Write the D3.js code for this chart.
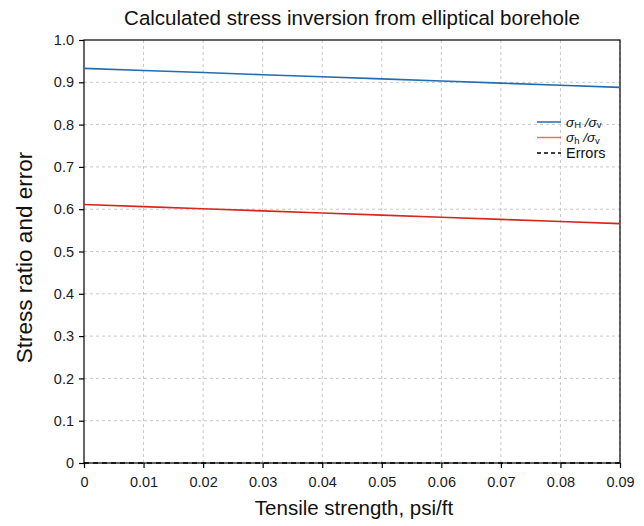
<!DOCTYPE html>
<html>
<head>
<meta charset="utf-8">
<script src="https://cdn.jsdelivr.net/npm/d3@7"></script>
<style>
  body { margin: 0; background: #fff; }
  text { font-family: "Liberation Sans", Arial, sans-serif; }
</style>
</head>
<body>
<svg id="chart" width="644" height="526"></svg>
<script>
// data
const tensile = [0, 0.01, 0.02, 0.03, 0.04, 0.05, 0.06, 0.07, 0.08, 0.09]
const sigmaHRatio = [0.933, 0.928, 0.923, 0.918, 0.913, 0.908, 0.903, 0.898, 0.893, 0.888]
const sigmahRatio = [0.611, 0.606, 0.601, 0.596, 0.591, 0.586, 0.581, 0.576, 0.571, 0.566]
const errors = [0, 0, 0, 0, 0, 0, 0, 0, 0, 0]
const xTicks = [0, 0.01, 0.02, 0.03, 0.04, 0.05, 0.06, 0.07, 0.08, 0.09]
const yTicks = [0, 0.1, 0.2, 0.3, 0.4, 0.5, 0.6, 0.7, 0.8, 0.9, 1.0]

const svg = d3.select('#chart')
const plotL = 84, plotR = 620, plotT = 40, plotB = 463

const x = d3.scaleLinear().domain([0, 0.09]).range([plotL, plotR])
const y = d3.scaleLinear().domain([0, 1]).range([plotB, plotT])

// grid
svg.append('g').selectAll('line').data(xTicks.slice(1)).enter().append('line')
  .attr('x1', d => x(d)).attr('x2', d => x(d)).attr('y1', plotT).attr('y2', plotB)
  .attr('stroke', '#c8c8c8').attr('stroke-dasharray', '3,3').attr('stroke-width', 1)
svg.append('g').selectAll('line').data(yTicks.slice(1, -1)).enter().append('line')
  .attr('x1', plotL).attr('x2', plotR).attr('y1', d => y(d)).attr('y2', d => y(d))
  .attr('stroke', '#c8c8c8').attr('stroke-dasharray', '3,3').attr('stroke-width', 1)

// frame
svg.append('rect').attr('x', plotL).attr('y', plotT).attr('width', plotR - plotL).attr('height', plotB - plotT)
  .attr('fill', 'none').attr('stroke', '#000').attr('stroke-width', 1.2)

const xAxis = d3.axisBottom(x).tickValues(xTicks).tickSize(5).tickPadding(9)
  .tickFormat(d => d === 0 ? '0' : d3.format('.2f')(d))
const yAxis = d3.axisLeft(y).tickValues(yTicks).tickSize(5).tickPadding(5)
  .tickFormat(d => d === 0 ? '0' : d3.format('.1f')(d))

const gx = svg.append('g').attr('transform', 'translate(0,' + plotB + ')').call(xAxis)
const gy = svg.append('g').attr('transform', 'translate(' + plotL + ',0)').call(yAxis)
;[gx, gy].forEach(g => {
  g.select('.domain').remove()
  g.selectAll('.tick line').attr('stroke', '#000').attr('stroke-width', 1.2)
  g.selectAll('.tick text').attr('font-size', 14.5).attr('fill', '#1a1a1a')
    .style('font-family', '"Liberation Sans", Arial, sans-serif')
})

const line = d3.line().x((d, i) => x(tensile[i])).y(d => y(d))

svg.append('path').datum(errors).attr('d', line).attr('fill', 'none')
  .attr('stroke', '#000').attr('stroke-width', 1.5).attr('stroke-dasharray', '5,4')
svg.append('path').datum(sigmahRatio).attr('d', line).attr('fill', 'none')
  .attr('stroke', '#d7261e').attr('stroke-width', 1.6)
svg.append('path').datum(sigmaHRatio).attr('d', line).attr('fill', 'none')
  .attr('stroke', '#1f6db2').attr('stroke-width', 1.6)

// legend
const legend = [
  { sub: 'H', color: '#1f6db2', dash: null },
  { sub: 'h', color: '#f26d6d', dash: null },
  { label: 'Errors', color: '#000', dash: '4,3' }
]
const lg = svg.append('g').attr('transform', 'translate(537,122)')
legend.forEach((d, i) => {
  const g = lg.append('g').attr('transform', 'translate(0,' + i * 15.5 + ')')
  g.append('line').attr('x1', 0).attr('x2', 24).attr('y1', 0).attr('y2', 0)
    .attr('stroke', d.color).attr('stroke-width', 1.5).attr('stroke-dasharray', d.dash)
  const t = g.append('text').attr('x', 29).attr('y', 4.5).attr('font-size', d.label ? 14.5 : 13.5).attr('fill', '#111')
  if (d.label) {
    t.text(d.label)
  } else {
    t.append('tspan').text('σ').attr('font-style', 'italic')
    t.append('tspan').text(d.sub).attr('font-size', 9.5).attr('dy', 1.5)
    t.append('tspan').text(' /σ').attr('font-style', 'italic').attr('dy', -1.5)
    t.append('tspan').text('v').attr('font-size', 9.5).attr('dy', 1.5)
  }
})

// titles
svg.append('text').attr('x', 352).attr('y', 25).attr('text-anchor', 'middle')
  .attr('font-size', 20.5).attr('fill', '#111').text('Calculated stress inversion from elliptical borehole')
svg.append('text').attr('x', 354).attr('y', 515).attr('text-anchor', 'middle')
  .attr('font-size', 20.5).attr('fill', '#111').text('Tensile strength, psi/ft')
svg.append('text').attr('transform', 'translate(32,' + ((plotT + plotB) / 2 + 6) + ') rotate(-90)')
  .attr('text-anchor', 'middle').attr('font-size', 22.5).attr('fill', '#111').text('Stress ratio and error')
</script>
</body>
</html>
